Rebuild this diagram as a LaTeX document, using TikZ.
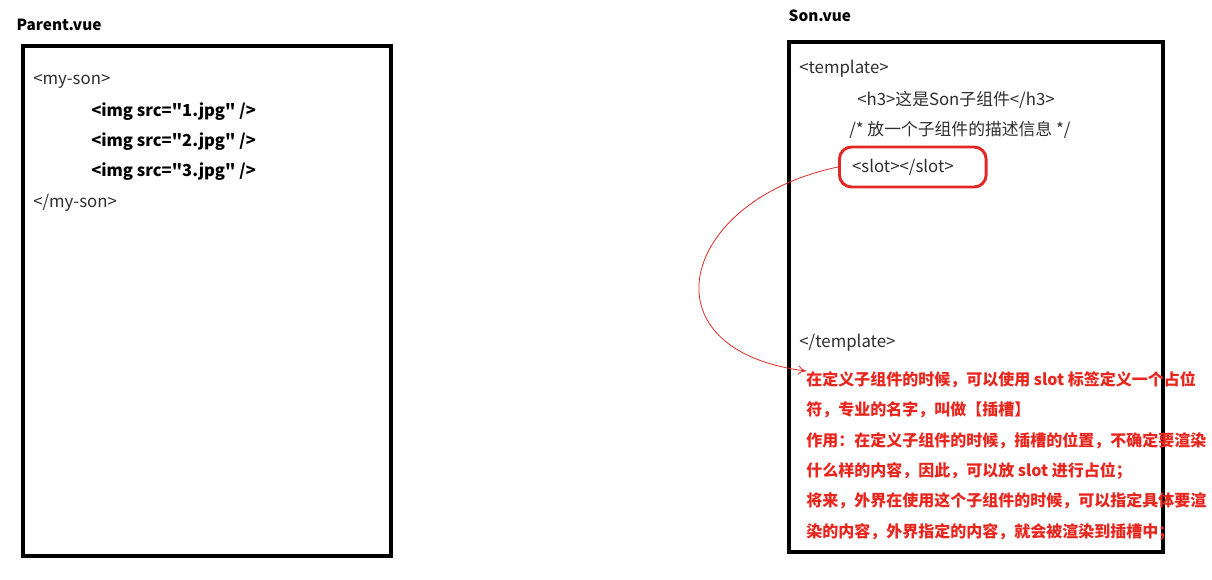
\documentclass[tikz,border=0pt]{standalone}
\usepackage{fontspec}
\setmainfont{Noto Sans CJK SC}[Ligatures=TeXOff]
\usepackage{xcolor}
\usetikzlibrary{positioning}
\usetikzlibrary{arrows.meta}

\definecolor{codegray}{RGB}{45,45,45}
\definecolor{notered}{RGB}{232,38,30}
\definecolor{ringred}{RGB}{226,40,38}

\tikzset{
  filebox/.style={draw=black, line width=2.3pt},
  filename/.style={anchor=west, font=\fontsize{11.5}{14}\selectfont\bfseries},
  codeline/.style={anchor=west, text=codegray, inner sep=0pt, font=\fontsize{12.6}{15}\selectfont},
  boldline/.style={codeline, text=black, font=\fontsize{12.4}{15}\selectfont\bfseries},
  slotring/.style={codeline, draw=ringred, line width=2.2pt, rounded corners=9pt,
    minimum height=30pt, text width=91pt, inner xsep=9.5pt},
  notetext/.style={anchor=north west, text=notered, inner sep=0pt, align=left,
    font=\fontsize{12}{22.8}\selectfont\bfseries},
  slotlink/.style={draw=ringred, line width=0.6pt, -{To[length=6pt,width=7pt]}}
}

\begin{document}
\begin{tikzpicture}[x=0.75pt,y=-0.75pt]
\useasboundingbox (0,0) rectangle (1212,579);

% Parent.vue
{
\node[filename] (parentname) at (12,25) {Parent.vue};
\draw[filebox] (23,46) rectangle (391,556);

\node[codeline] (myson) at (33,81) {<my-son>};
\node[boldline] (img1) at (91,112) {<img src="1.jpg" />};
\node[boldline] (img2) at (91,142) {<img src="2.jpg" />};
\node[boldline] (img3) at (91,172) {<img src="3.jpg" />};
\node[codeline] (mysonend) at (33,203) {</my-son>};
}

% Son.vue
{
\node[filename] (sonname) at (784,16) {Son.vue};
\draw[filebox] (789,42) rectangle (1163,552);

\node[codeline] (tpl) at (799,69) {<template>};
\node[codeline] (hthree) at (857,100) {<h3>这是Son子组件</h3>};
\node[codeline] (desc) at (849,130) {/* 放一个子组件的描述信息 */};
\node[slotring] (slot) at (838,167) {<slot></slot>};
\node[codeline] (tplend) at (799,343) {</template>};
}

% note in red
\node[notetext] (note) at (806,371) {在定义子组件的时候，可以使用 slot 标签定义一个占位\\
符，专业的名字，叫做【插槽】\\
作用：在定义子组件的时候，插槽的位置，不确定要渲染\\
什么样的内容，因此，可以放 slot 进行占位；\\
将来，外界在使用这个子组件的时候，可以指定具体要渲\\
染的内容，外界指定的内容，就会被渲染到插槽中；};

\draw[slotlink] (slot.west) .. controls (680,200) and (640,350) .. (note.north west);

\end{tikzpicture}
\end{document}
